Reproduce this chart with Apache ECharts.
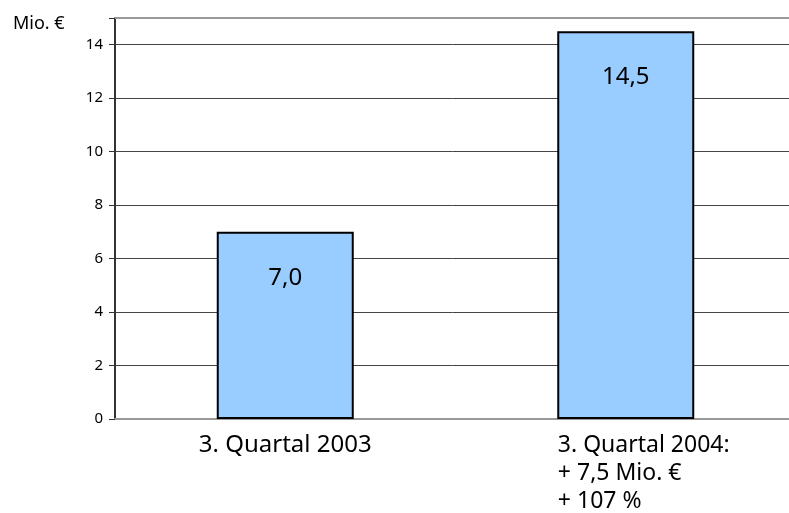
<!DOCTYPE html>
<html>
<head>
<meta charset="utf-8">
<script src="https://cdn.jsdelivr.net/npm/echarts@6/dist/echarts.min.js"></script>
<style>
  html, body { margin: 0; padding: 0; background: #fff; }
  #chart { width: 789px; height: 513px; }
</style>
</head>
<body>
<div id="chart"></div>
<script>
// Daten
var categories = ["3. Quartal 2003", "3. Quartal 2004:\n+ 7,5 Mio. €\n+ 107 %"];
var values = [7.0, 14.5];
var valueLabels = ["7,0", "14,5"];
var yTicks = [0, 2, 4, 6, 8, 10, 12, 14];
var unitLabel = "Mio. €";

var chart = echarts.init(document.getElementById("chart"));

var option = {
  animation: false,
  backgroundColor: "#fff",
  title: {
    text: unitLabel,
    left: 8,
    top: 10,
    textStyle: { fontFamily: "Noto Sans", fontSize: 18, fontWeight: "normal", color: "#000" }
  },
  grid: { left: 115, width: 681, top: 18, bottom: 94, outerBoundsMode: "none" },
  xAxis: [
    {
      type: "category",
      data: categories,
      axisLine: { lineStyle: { color: "#999", width: 2 } },
      axisTick: { show: false },
      axisLabel: {
        margin: 12,
        color: "#000",
        formatter: function (v, i) {
          if (i === 0) return "{a|" + v + "}";
          return v.split("\n").map(function (s) { return "{b|" + s + "}"; }).join("\n");
        },
        rich: {
          a: { fontFamily: "Noto Sans", fontSize: 24, color: "#000", lineHeight: 28 },
          b: { fontFamily: "Noto Sans", fontSize: 23, color: "#000", lineHeight: 28, align: "left", padding: [0, 0, 0, 36] }
        }
      }
    },
    {
      type: "category",
      position: "top",
      data: categories,
      axisLine: { lineStyle: { color: "#999", width: 2 } },
      axisTick: { show: false },
      axisLabel: { show: false }
    }
  ],
  yAxis: {
    type: "value",
    min: 0,
    max: 15,
    interval: 2,
    axisLine: { show: true, lineStyle: { color: "#333", width: 2 } },
    axisTick: { show: true, length: 6, lineStyle: { color: "#333", width: 1 } },
    axisLabel: {
      margin: 12,
      color: "#000",
      fontFamily: "Noto Sans",
      fontSize: 15,
      formatter: function (v) { return yTicks.indexOf(v) >= 0 ? String(v) : ""; }
    },
    splitLine: { show: true, showMaxLine: false, showMinLine: false, lineStyle: { color: "#444", width: 1 } }
  },
  series: [
    {
      type: "bar",
      data: values,
      barWidth: 137,
      itemStyle: { color: "#99CCFF", borderColor: "#000", borderWidth: 2 },
      label: {
        show: true,
        position: "insideTop",
        distance: 34,
        color: "#000",
        fontFamily: "Noto Sans",
        fontSize: 24,
        formatter: function (p) { return valueLabels[p.dataIndex]; }
      }
    }
  ]
};

chart.setOption(option);
</script>
</body>
</html>
